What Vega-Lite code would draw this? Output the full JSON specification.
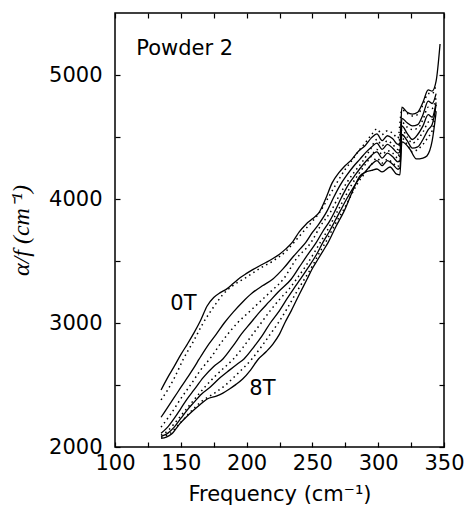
{
"$schema":"https://vega.github.io/schema/vega-lite/v6.json",
"width":329,"height":434,
"autosize":{"type":"none"},
"padding":{"left":115,"top":13,"right":25,"bottom":75},
"background":"white",
"config":{"view":{"stroke":"black","strokeWidth":1.5},
"axis":{"domain":false,"grid":false,"ticks":true,"tickColor":"black","tickWidth":1.2,"tickSize":-5,"labelFlush":false,"labelFont":"DejaVu Sans","labelFontSize":21,"labelColor":"black","titleFont":"DejaVu Sans","titleFontSize":21,"titleFontWeight":"normal","titleColor":"black"}},
"datasets":{
"labels":[{"f":153,"v":5206,"t":"Powder 2"},{"f":152,"v":3153,"t":"0T"},{"f":212,"v":2464,"t":"8T"}],
"curves":[
{"c":"0T","f":135,"v":2460},{"c":"0T","f":140,"v":2560},{"c":"0T","f":145,"v":2650},{"c":"0T","f":150,"v":2745},{"c":"0T","f":155,"v":2830},{"c":"0T","f":160,"v":2920},{"c":"0T","f":165,"v":3020},{"c":"0T","f":170,"v":3137},{"c":"0T","f":175,"v":3205},{"c":"0T","f":180,"v":3245},{"c":"0T","f":185,"v":3275},{"c":"0T","f":190,"v":3320},{"c":"0T","f":195,"v":3365},{"c":"0T","f":200,"v":3400},{"c":"0T","f":205,"v":3432},{"c":"0T","f":210,"v":3462},{"c":"0T","f":215,"v":3490},{"c":"0T","f":220,"v":3520},{"c":"0T","f":225,"v":3555},{"c":"0T","f":230,"v":3600},{"c":"0T","f":235,"v":3655},{"c":"0T","f":240,"v":3735},{"c":"0T","f":245,"v":3795},{"c":"0T","f":250,"v":3840},{"c":"0T","f":255,"v":3890},{"c":"0T","f":260,"v":4000},{"c":"0T","f":265,"v":4130},{"c":"0T","f":270,"v":4210},{"c":"0T","f":275,"v":4270},{"c":"0T","f":280,"v":4320},{"c":"0T","f":285,"v":4385},{"c":"0T","f":290,"v":4430},{"c":"0T","f":295,"v":4495},{"c":"0T","f":299,"v":4525},{"c":"0T","f":303,"v":4470},{"c":"0T","f":307,"v":4510},{"c":"0T","f":311,"v":4485},{"c":"0T","f":315,"v":4440},{"c":"0T","f":316.5,"v":4450},{"c":"0T","f":318,"v":4740},{"c":"0T","f":322,"v":4700},{"c":"0T","f":326,"v":4685},{"c":"0T","f":330,"v":4700},{"c":"0T","f":334,"v":4780},{"c":"0T","f":338,"v":4880},{"c":"0T","f":341,"v":4870},{"c":"0T","f":344,"v":4950},{"c":"0T","f":347,"v":5250},
{"c":"1T","f":135,"v":2380},{"c":"1T","f":140,"v":2460},{"c":"1T","f":145,"v":2555},{"c":"1T","f":152,"v":2710},{"c":"1T","f":160,"v":2860},{"c":"1T","f":167,"v":3000},{"c":"1T","f":175,"v":3130},{"c":"1T","f":182,"v":3230},{"c":"1T","f":190,"v":3305},{"c":"1T","f":200,"v":3370},{"c":"1T","f":210,"v":3440},{"c":"1T","f":220,"v":3500},{"c":"1T","f":230,"v":3580},{"c":"1T","f":236,"v":3650},{"c":"1T","f":245,"v":3760},{"c":"1T","f":250,"v":3820},{"c":"1T","f":256,"v":3900},{"c":"1T","f":262,"v":4010},{"c":"1T","f":268,"v":4120},{"c":"1T","f":275,"v":4240},{"c":"1T","f":280,"v":4310},{"c":"1T","f":285,"v":4385},{"c":"1T","f":290,"v":4450},{"c":"1T","f":295,"v":4520},{"c":"1T","f":299,"v":4565},{"c":"1T","f":303,"v":4520},{"c":"1T","f":307,"v":4550},{"c":"1T","f":311,"v":4530},{"c":"1T","f":315,"v":4490},{"c":"1T","f":318,"v":4720},{"c":"1T","f":322,"v":4690},{"c":"1T","f":326,"v":4670},{"c":"1T","f":330,"v":4680},{"c":"1T","f":334,"v":4760},{"c":"1T","f":338,"v":4850},{"c":"1T","f":341,"v":4850},{"c":"1T","f":344,"v":4920},
{"c":"2T","f":135,"v":2240},{"c":"2T","f":140,"v":2320},{"c":"2T","f":145,"v":2400},{"c":"2T","f":150,"v":2480},{"c":"2T","f":155,"v":2560},{"c":"2T","f":160,"v":2640},{"c":"2T","f":164,"v":2710},{"c":"2T","f":170,"v":2810},{"c":"2T","f":177,"v":2910},{"c":"2T","f":183,"v":3000},{"c":"2T","f":190,"v":3090},{"c":"2T","f":197,"v":3170},{"c":"2T","f":204,"v":3240},{"c":"2T","f":212,"v":3300},{"c":"2T","f":220,"v":3355},{"c":"2T","f":228,"v":3440},{"c":"2T","f":235,"v":3530},{"c":"2T","f":240,"v":3590},{"c":"2T","f":245,"v":3650},{"c":"2T","f":250,"v":3730},{"c":"2T","f":255,"v":3800},{"c":"2T","f":261,"v":3900},{"c":"2T","f":266,"v":4010},{"c":"2T","f":271,"v":4110},{"c":"2T","f":276,"v":4190},{"c":"2T","f":281,"v":4260},{"c":"2T","f":286,"v":4320},{"c":"2T","f":291,"v":4380},{"c":"2T","f":295,"v":4420},{"c":"2T","f":299,"v":4450},{"c":"2T","f":303,"v":4400},{"c":"2T","f":307,"v":4440},{"c":"2T","f":311,"v":4410},{"c":"2T","f":315,"v":4370},{"c":"2T","f":316.5,"v":4380},{"c":"2T","f":318,"v":4650},{"c":"2T","f":322,"v":4615},{"c":"2T","f":326,"v":4590},{"c":"2T","f":330,"v":4600},{"c":"2T","f":334,"v":4680},{"c":"2T","f":338,"v":4790},{"c":"2T","f":341,"v":4770},{"c":"2T","f":344,"v":4850},
{"c":"3T","f":135,"v":2160},{"c":"3T","f":142,"v":2260},{"c":"3T","f":150,"v":2390},{"c":"3T","f":158,"v":2510},{"c":"3T","f":165,"v":2620},{"c":"3T","f":172,"v":2710},{"c":"3T","f":182,"v":2860},{"c":"3T","f":193,"v":3000},{"c":"3T","f":202,"v":3090},{"c":"3T","f":210,"v":3170},{"c":"3T","f":218,"v":3250},{"c":"3T","f":228,"v":3355},{"c":"3T","f":238,"v":3520},{"c":"3T","f":249,"v":3650},{"c":"3T","f":256,"v":3780},{"c":"3T","f":264,"v":3900},{"c":"3T","f":270,"v":4020},{"c":"3T","f":276,"v":4130},{"c":"3T","f":282,"v":4220},{"c":"3T","f":288,"v":4300},{"c":"3T","f":294,"v":4400},{"c":"3T","f":299,"v":4480},{"c":"3T","f":303,"v":4430},{"c":"3T","f":307,"v":4470},{"c":"3T","f":311,"v":4440},{"c":"3T","f":315,"v":4400},{"c":"3T","f":318,"v":4620},{"c":"3T","f":322,"v":4580},{"c":"3T","f":326,"v":4560},{"c":"3T","f":330,"v":4570},{"c":"3T","f":334,"v":4640},{"c":"3T","f":338,"v":4740},{"c":"3T","f":341,"v":4730},{"c":"3T","f":344,"v":4820},
{"c":"4T","f":135,"v":2110},{"c":"4T","f":140,"v":2160},{"c":"4T","f":145,"v":2230},{"c":"4T","f":150,"v":2310},{"c":"4T","f":155,"v":2390},{"c":"4T","f":160,"v":2460},{"c":"4T","f":167,"v":2560},{"c":"4T","f":175,"v":2650},{"c":"4T","f":182,"v":2710},{"c":"4T","f":190,"v":2820},{"c":"4T","f":196,"v":2910},{"c":"4T","f":203,"v":3000},{"c":"4T","f":210,"v":3090},{"c":"4T","f":217,"v":3170},{"c":"4T","f":224,"v":3250},{"c":"4T","f":234,"v":3355},{"c":"4T","f":240,"v":3450},{"c":"4T","f":247,"v":3560},{"c":"4T","f":253,"v":3650},{"c":"4T","f":258,"v":3740},{"c":"4T","f":263,"v":3820},{"c":"4T","f":267,"v":3900},{"c":"4T","f":272,"v":4010},{"c":"4T","f":277,"v":4110},{"c":"4T","f":283,"v":4200},{"c":"4T","f":288,"v":4270},{"c":"4T","f":293,"v":4330},{"c":"4T","f":299,"v":4380},{"c":"4T","f":303,"v":4330},{"c":"4T","f":307,"v":4370},{"c":"4T","f":311,"v":4340},{"c":"4T","f":315,"v":4300},{"c":"4T","f":316.5,"v":4310},{"c":"4T","f":318,"v":4590},{"c":"4T","f":322,"v":4530},{"c":"4T","f":326,"v":4480},{"c":"4T","f":330,"v":4520},{"c":"4T","f":334,"v":4590},{"c":"4T","f":338,"v":4680},{"c":"4T","f":341,"v":4660},{"c":"4T","f":344,"v":4780},
{"c":"5T","f":135,"v":2095},{"c":"5T","f":140,"v":2130},{"c":"5T","f":146,"v":2200},{"c":"5T","f":153,"v":2290},{"c":"5T","f":160,"v":2380},{"c":"5T","f":168,"v":2480},{"c":"5T","f":176,"v":2570},{"c":"5T","f":183,"v":2640},{"c":"5T","f":190,"v":2710},{"c":"5T","f":197,"v":2800},{"c":"5T","f":204,"v":2900},{"c":"5T","f":211,"v":3000},{"c":"5T","f":218,"v":3100},{"c":"5T","f":225,"v":3190},{"c":"5T","f":232,"v":3270},{"c":"5T","f":238,"v":3355},{"c":"5T","f":245,"v":3460},{"c":"5T","f":251,"v":3560},{"c":"5T","f":256,"v":3650},{"c":"5T","f":261,"v":3740},{"c":"5T","f":265,"v":3820},{"c":"5T","f":269,"v":3900},{"c":"5T","f":274,"v":4000},{"c":"5T","f":279,"v":4100},{"c":"5T","f":285,"v":4200},{"c":"5T","f":291,"v":4290},{"c":"5T","f":295,"v":4350},{"c":"5T","f":299,"v":4400},{"c":"5T","f":303,"v":4360},{"c":"5T","f":307,"v":4390},{"c":"5T","f":311,"v":4370},{"c":"5T","f":315,"v":4330},{"c":"5T","f":318,"v":4560},{"c":"5T","f":322,"v":4500},{"c":"5T","f":326,"v":4450},{"c":"5T","f":330,"v":4480},{"c":"5T","f":334,"v":4540},{"c":"5T","f":338,"v":4620},{"c":"5T","f":341,"v":4640},{"c":"5T","f":344,"v":4760},
{"c":"6T","f":135,"v":2085},{"c":"6T","f":140,"v":2110},{"c":"6T","f":145,"v":2160},{"c":"6T","f":150,"v":2230},{"c":"6T","f":155,"v":2300},{"c":"6T","f":160,"v":2360},{"c":"6T","f":165,"v":2420},{"c":"6T","f":172,"v":2480},{"c":"6T","f":180,"v":2560},{"c":"6T","f":187,"v":2620},{"c":"6T","f":193,"v":2670},{"c":"6T","f":198,"v":2710},{"c":"6T","f":205,"v":2800},{"c":"6T","f":212,"v":2900},{"c":"6T","f":218,"v":3000},{"c":"6T","f":225,"v":3100},{"c":"6T","f":231,"v":3200},{"c":"6T","f":236,"v":3280},{"c":"6T","f":241,"v":3355},{"c":"6T","f":247,"v":3450},{"c":"6T","f":253,"v":3550},{"c":"6T","f":258,"v":3650},{"c":"6T","f":263,"v":3740},{"c":"6T","f":267,"v":3820},{"c":"6T","f":271,"v":3900},{"c":"6T","f":276,"v":4000},{"c":"6T","f":281,"v":4090},{"c":"6T","f":286,"v":4170},{"c":"6T","f":291,"v":4230},{"c":"6T","f":295,"v":4280},{"c":"6T","f":299,"v":4310},{"c":"6T","f":303,"v":4270},{"c":"6T","f":307,"v":4310},{"c":"6T","f":311,"v":4280},{"c":"6T","f":315,"v":4240},{"c":"6T","f":316.5,"v":4250},{"c":"6T","f":318,"v":4520},{"c":"6T","f":322,"v":4470},{"c":"6T","f":326,"v":4410},{"c":"6T","f":330,"v":4420},{"c":"6T","f":334,"v":4480},{"c":"6T","f":338,"v":4560},{"c":"6T","f":341,"v":4600},{"c":"6T","f":344,"v":4760},
{"c":"7T","f":135,"v":2078},{"c":"7T","f":142,"v":2110},{"c":"7T","f":150,"v":2200},{"c":"7T","f":158,"v":2290},{"c":"7T","f":166,"v":2370},{"c":"7T","f":175,"v":2430},{"c":"7T","f":184,"v":2500},{"c":"7T","f":193,"v":2590},{"c":"7T","f":204,"v":2710},{"c":"7T","f":212,"v":2820},{"c":"7T","f":218,"v":2910},{"c":"7T","f":224,"v":3000},{"c":"7T","f":231,"v":3120},{"c":"7T","f":238,"v":3250},{"c":"7T","f":244,"v":3355},{"c":"7T","f":250,"v":3460},{"c":"7T","f":255,"v":3560},{"c":"7T","f":260,"v":3650},{"c":"7T","f":265,"v":3750},{"c":"7T","f":269,"v":3830},{"c":"7T","f":273,"v":3900},{"c":"7T","f":278,"v":4000},{"c":"7T","f":284,"v":4120},{"c":"7T","f":290,"v":4210},{"c":"7T","f":295,"v":4280},{"c":"7T","f":299,"v":4330},{"c":"7T","f":303,"v":4290},{"c":"7T","f":307,"v":4320},{"c":"7T","f":311,"v":4290},{"c":"7T","f":315,"v":4260},{"c":"7T","f":318,"v":4490},{"c":"7T","f":322,"v":4440},{"c":"7T","f":326,"v":4380},{"c":"7T","f":330,"v":4400},{"c":"7T","f":334,"v":4440},{"c":"7T","f":338,"v":4500},{"c":"7T","f":341,"v":4550},{"c":"7T","f":344,"v":4720},
{"c":"8T","f":135,"v":2070},{"c":"8T","f":139,"v":2080},{"c":"8T","f":143,"v":2105},{"c":"8T","f":149,"v":2185},{"c":"8T","f":154,"v":2240},{"c":"8T","f":159,"v":2290},{"c":"8T","f":165,"v":2345},{"c":"8T","f":170,"v":2387},{"c":"8T","f":177,"v":2411},{"c":"8T","f":182,"v":2435},{"c":"8T","f":187,"v":2468},{"c":"8T","f":192,"v":2505},{"c":"8T","f":197,"v":2548},{"c":"8T","f":203,"v":2620},{"c":"8T","f":209,"v":2710},{"c":"8T","f":215,"v":2770},{"c":"8T","f":220,"v":2830},{"c":"8T","f":225,"v":2910},{"c":"8T","f":229,"v":3000},{"c":"8T","f":234,"v":3100},{"c":"8T","f":240,"v":3230},{"c":"8T","f":246,"v":3355},{"c":"8T","f":250,"v":3440},{"c":"8T","f":254,"v":3510},{"c":"8T","f":258,"v":3580},{"c":"8T","f":262,"v":3650},{"c":"8T","f":268,"v":3780},{"c":"8T","f":274,"v":3900},{"c":"8T","f":280,"v":4050},{"c":"8T","f":286,"v":4185},{"c":"8T","f":290,"v":4215},{"c":"8T","f":295,"v":4230},{"c":"8T","f":299,"v":4242},{"c":"8T","f":303,"v":4218},{"c":"8T","f":309,"v":4258},{"c":"8T","f":314,"v":4200},{"c":"8T","f":316.5,"v":4195},{"c":"8T","f":318,"v":4460},{"c":"8T","f":324,"v":4403},{"c":"8T","f":329,"v":4323},{"c":"8T","f":334,"v":4330},{"c":"8T","f":337,"v":4347},{"c":"8T","f":341,"v":4468},{"c":"8T","f":344,"v":4700}
]},
"resolve":{"axis":{"x":"independent","y":"independent"}},
"layer":[
{"data":{"name":"curves"},
 "transform":[{"filter":{"field":"c","oneOf":["0T","2T","4T","6T","8T"]}}],
 "mark":{"type":"line","color":"black","strokeWidth":1.3,"interpolate":"monotone"},
 "encoding":{
  "x":{"field":"f","type":"quantitative","scale":{"domain":[100,350]},
   "axis":{"orient":"bottom","values":[100,125,150,175,200,225,250,275,300,325,350],"labelExpr":"datum.value % 50 === 0 ? datum.label : ''","labelPadding":10,"title":"Frequency (cm⁻¹)","titlePadding":10}},
  "y":{"field":"v","type":"quantitative","scale":{"domain":[2000,5500]},
   "axis":{"orient":"left","values":[2000,2500,3000,3500,4000,4500,5000],"labelExpr":"datum.value % 1000 === 0 ? datum.label : ''","format":"d","labelPadding":18,"title":"α/f (cm⁻¹)","titleFont":"Liberation Serif","titleFontStyle":"italic","titleFontSize":24,"titleColor":"black","titlePadding":15}},
  "detail":{"field":"c"}}},
{"data":{"name":"curves"},
 "transform":[{"filter":{"field":"c","oneOf":["1T","3T","5T","7T"]}}],
 "mark":{"type":"line","color":"black","strokeWidth":1.5,"strokeDash":[1.5,3.5],"interpolate":"monotone"},
 "encoding":{
  "x":{"field":"f","type":"quantitative","scale":{"domain":[100,350]},"axis":null},
  "y":{"field":"v","type":"quantitative","scale":{"domain":[2000,5500]},"axis":null},
  "detail":{"field":"c"}}},
{"data":{"name":"labels"},
 "mark":{"type":"text","font":"DejaVu Sans","fontSize":21,"color":"black","align":"center","baseline":"middle"},
 "encoding":{
  "x":{"field":"f","type":"quantitative","scale":{"domain":[100,350]},
   "axis":{"orient":"top","values":[100,125,150,175,200,225,250,275,300,325,350],"labels":false,"title":null}},
  "y":{"field":"v","type":"quantitative","scale":{"domain":[2000,5500]},
   "axis":{"orient":"right","values":[2000,2500,3000,3500,4000,4500,5000],"labels":false,"title":null}},
  "text":{"field":"t"}}}
]
}
